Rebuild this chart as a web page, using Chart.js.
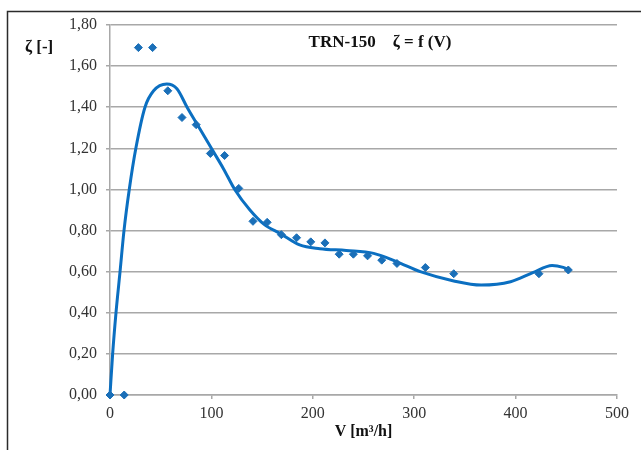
<!DOCTYPE html>
<html>
<head>
<meta charset="utf-8">
<script src="https://cdn.jsdelivr.net/npm/chart.js@4"></script>
<style>
  html, body { margin: 0; padding: 0; background: #ffffff; }
  #c { display: block; }
</style>
</head>
<body>
<canvas id="c" width="641" height="450"></canvas>
<script>
// Measured points: V [m3/h] and zeta [-]
const measV = [0, 14, 28, 42, 57, 71, 85, 99, 113, 127, 141, 155, 169, 184, 198, 212, 226, 240, 254, 268, 283, 311, 339, 423, 452];
const measZeta = [0, 0, 1.69, 1.69, 1.48, 1.35, 1.315, 1.175, 1.165, 1.005, 0.845, 0.84, 0.78, 0.765, 0.745, 0.74, 0.685, 0.685, 0.677, 0.656, 0.64, 0.62, 0.59, 0.59, 0.608];

// Trend line
const trendV = [0, 2.6, 5.9, 9.9, 13.8, 19, 25.5, 34.5, 43, 56, 66, 76, 88, 100, 112, 123, 138, 152, 168, 187, 207, 233, 260, 283, 306, 339, 366, 395, 417, 436, 447, 454];
const trendZeta = [0, 0.2, 0.4, 0.6, 0.8, 1.0, 1.2, 1.4, 1.48, 1.513, 1.49, 1.40, 1.30, 1.20, 1.10, 1.00, 0.90, 0.83, 0.785, 0.73, 0.712, 0.703, 0.689, 0.648, 0.600, 0.555, 0.535, 0.551, 0.595, 0.630, 0.621, 0.607];

const xTicks = [0, 100, 200, 300, 400, 500];
const yTicks = [0, 0.2, 0.4, 0.6, 0.8, 1.0, 1.2, 1.4, 1.6, 1.8];

const chartTitle = 'TRN-150    \u03B6 = f (V)';
const yTitle = '\u03B6 [-]';
const xTitle = 'V [m\u00B3/h]';

const serif = "'Liberation Serif', 'Times New Roman', serif";

const toPts = (xs, ys) => xs.map((x, i) => ({ x: x, y: ys[i] }));

const textPlugin = {
  id: 'texts',
  afterDraw(chart) {
    const ctx = chart.ctx;
    const a = chart.chartArea;
    ctx.save();
    // frame (top and left)
    ctx.strokeStyle = '#2b2b2b';
    ctx.lineWidth = 1.5;
    ctx.beginPath();
    ctx.moveTo(7.5, 450);
    ctx.lineTo(7.5, 11.5);
    ctx.lineTo(641, 11.5);
    ctx.stroke();

    ctx.fillStyle = '#111111';
    ctx.textBaseline = 'middle';
    ctx.textAlign = 'center';
    ctx.font = 'bold 17px ' + serif;
    ctx.fillText(chartTitle, 380, 43);
    ctx.textAlign = 'left';
    ctx.font = 'bold 17px ' + serif;
    ctx.fillText(yTitle, 25, 48);
    ctx.textAlign = 'center';
    ctx.font = 'bold 16px ' + serif;
    ctx.fillText(xTitle, (a.left + a.right) / 2, 432);
    ctx.restore();
  }
};

new Chart(document.getElementById('c'), {
  type: 'scatter',
  data: {
    datasets: [
      {
        label: 'trend',
        data: toPts(trendV, trendZeta),
        showLine: true,
        borderColor: '#0b6fc1',
        borderWidth: 3,
        pointRadius: 0,
        cubicInterpolationMode: 'monotone',
        clip: false,
        order: 2
      },
      {
        label: 'measured',
        data: toPts(measV, measZeta),
        showLine: false,
        pointStyle: 'rectRot',
        pointRadius: 4,
        backgroundColor: '#1a6fb8',
        borderColor: '#1a6fb8',
        borderWidth: 1,
        clip: false,
        order: 1
      }
    ]
  },
  options: {
    responsive: false,
    animation: false,
    devicePixelRatio: 1,
    layout: { padding: { left: 0, top: 25, right: 24, bottom: 0 } },
    plugins: { legend: { display: false }, tooltip: { enabled: false }, title: { display: false } },
    scales: {
      x: {
        type: 'linear',
        min: 0, max: 500,
        afterBuildTicks(s) { s.ticks = xTicks.map(v => ({ value: v })); },
        afterFit(s) { s.height = 55; },
        grid: { drawOnChartArea: false, drawTicks: true, tickLength: 4, color: '#a8a8a8', lineWidth: 1.5 },
        border: { display: true, color: '#a8a8a8', width: 1.5 },
        ticks: { padding: 5, color: '#333333', font: { family: serif, size: 16 }, maxRotation: 0 }
      },
      y: {
        type: 'linear',
        min: 0, max: 1.8,
        afterBuildTicks(s) { s.ticks = yTicks.map(v => ({ value: v })); },
        afterFit(s) { s.width = 110; },
        grid: { drawOnChartArea: true, drawTicks: true, tickLength: 4, color: '#a8a8a8', lineWidth: 1.5 },
        border: { display: true, color: '#a8a8a8', width: 1.5 },
        ticks: { padding: 9, color: '#333333', font: { family: serif, size: 16 },
          callback: v => Number(v).toFixed(2).replace('.', ',') }
      }
    }
  },
  plugins: [textPlugin]
});
</script>
</body>
</html>
